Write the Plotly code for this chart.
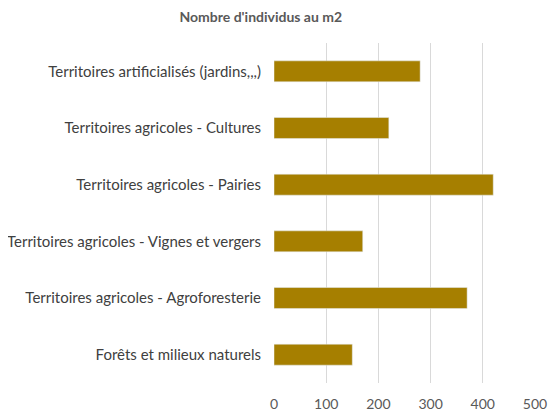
import plotly.graph_objects as go

categories = [
    "Territoires artificialisés (jardins,,,)",
    "Territoires agricoles - Cultures",
    "Territoires agricoles - Pairies",
    "Territoires agricoles - Vignes et vergers",
    "Territoires agricoles - Agroforesterie",
    "Forêts et milieux naturels",
]
individus_m2 = [280, 220, 420, 170, 370, 150]
x_ticks = [0, 100, 200, 300, 400, 500]

fig = go.Figure(
    go.Bar(
        x=individus_m2,
        y=categories,
        orientation="h",
        marker=dict(color="#A67F00"),
    )
)
# page body adds an 8px margin, so the figure is a bit smaller than the window
fig.update_layout(
    title=dict(
        text="<b>Nombre d'individus au m2</b>",
        x=0.458, xanchor="center", y=0.978, yanchor="middle",
        font=dict(family="Lato, sans-serif", size=14, color="#595959"),
    ),
    width=552, height=412,
    paper_bgcolor="white", plot_bgcolor="white",
    font=dict(family="Lato, sans-serif", size=15, color="#404040"),
    margin=dict(l=266, r=25, t=35, b=37),
    bargap=0.63,
    showlegend=False,
)
fig.update_xaxes(
    range=[0, 500], tickvals=x_ticks,
    showgrid=True, gridcolor="#D9D9D9", gridwidth=1,
    zeroline=False, showline=False, automargin=False,
    ticklabelstandoff=11,
    tickfont=dict(size=14, color="#595959"),
)
fig.update_yaxes(
    autorange="reversed", showgrid=False, showline=False,
    ticks="", ticklabelstandoff=12, automargin=False,
)

fig.write_html("out.html")
